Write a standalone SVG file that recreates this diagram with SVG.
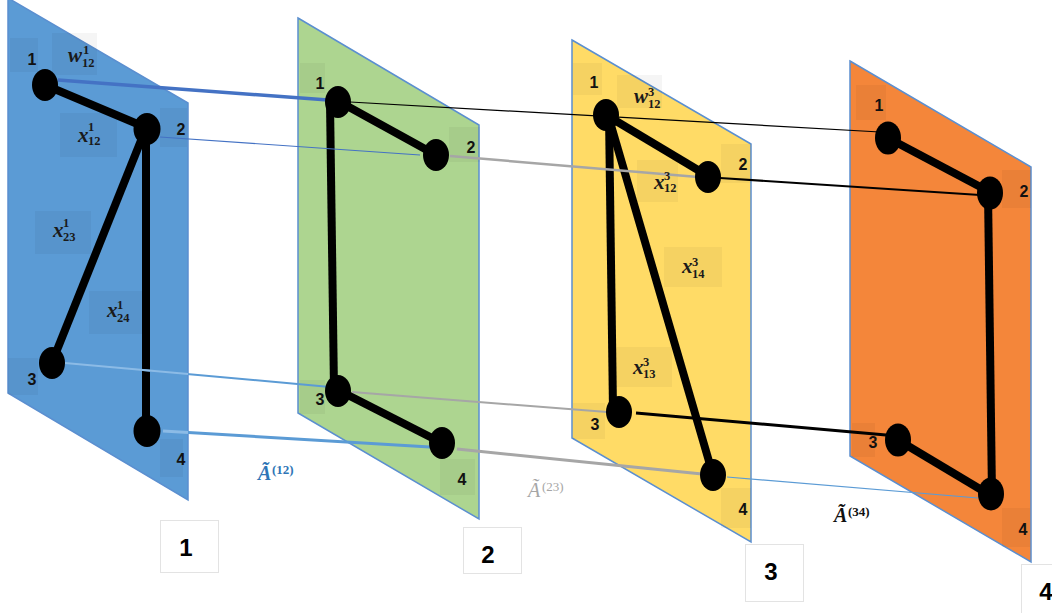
<svg xmlns="http://www.w3.org/2000/svg" width="1052" height="613" viewBox="0 0 1052 613">
<style>
.panel{stroke:#5B8FD0;stroke-width:1.5;stroke-linejoin:miter}
.box{fill:#000;fill-opacity:0.04}
.num{font-family:"Liberation Sans",Arial,sans-serif;font-weight:bold;font-size:16px;text-anchor:middle;fill:#111}
.big{font-family:"Liberation Sans",Arial,sans-serif;font-weight:bold;font-size:24px;text-anchor:middle;fill:#000}
.nbox{fill:#fff;stroke:#e3e3e3;stroke-width:1}
.m{font-family:"Liberation Serif","DejaVu Serif",serif;font-style:italic;font-weight:bold;font-size:21px;fill:#1a1a1a}
.s{font-family:"Liberation Serif","DejaVu Serif",serif;font-weight:bold;font-size:12.5px;fill:#1a1a1a}
.edge{stroke:#000;stroke-width:8;fill:none}
.node{fill:#000}
</style>

<g id="panel-1">
<polygon class="panel" fill="#5B9BD5" points="8,-2 188,103 188,500 8,393"/>
<rect class="box" x="10" y="38" width="28" height="34"/>
<rect class="box" x="52" y="33" width="45" height="42"/>
<rect class="box" x="60" y="113" width="57" height="44"/>
<rect class="box" x="160" y="108" width="27" height="39"/>
<rect class="box" x="35" y="211" width="56" height="43"/>
<rect class="box" x="89" y="291" width="56" height="43"/>
<rect class="box" x="8" y="358" width="30" height="37"/>
<rect class="box" x="160" y="439" width="23" height="38"/>
</g>

<g id="panel-2">
<polygon class="panel" fill="#ADD590" points="298,18 479,125 479,519 298,413"/>
<rect class="box" x="300" y="63" width="25" height="30"/>
<rect class="box" x="449" y="127" width="31" height="35"/>
<rect class="box" x="300" y="380" width="25" height="34"/>
<rect class="box" x="440" y="459" width="35" height="36"/>
</g>

<g id="panel-3">
<polygon class="panel" fill="#FFDB66" points="572,40 751,144 751,542 572,438"/>
<rect class="box" x="573" y="63" width="29" height="32"/>
<rect class="box" x="617" y="75" width="45" height="33"/>
<rect class="box" x="721" y="144" width="30" height="39"/>
<rect class="box" x="637" y="160" width="41" height="42"/>
<rect class="box" x="664" y="247" width="58" height="40"/>
<rect class="box" x="614" y="347" width="58" height="40"/>
<rect class="box" x="573" y="403" width="32" height="36"/>
<rect class="box" x="721" y="488" width="30" height="40"/>
</g>

<g id="panel-4">
<polygon class="panel" fill="#F4863A" points="850,61 1031,167 1031,562 850,456"/>
<rect class="box" x="856" y="85" width="30" height="35"/>
<rect class="box" x="1002" y="170" width="29" height="38"/>
<rect class="box" x="852" y="423" width="23" height="34"/>
<rect class="box" x="1002" y="508" width="28" height="39"/>
</g>

<g id="connectors">
<line class="edge" x1="45" y1="85" x2="147" y2="128"/>
<line class="edge" x1="146" y1="128" x2="53" y2="360"/>
<line class="edge" x1="146" y1="128" x2="146" y2="430"/>
<line class="edge" x1="338" y1="101" x2="436" y2="155"/>
<line class="edge" x1="330" y1="102" x2="334" y2="390"/>
<line class="edge" x1="338" y1="390" x2="442" y2="443"/>
<line class="edge" x1="606" y1="115" x2="708" y2="176"/>
<line class="edge" x1="609" y1="115" x2="613" y2="410"/>
<line class="edge" x1="608" y1="115" x2="713" y2="475"/>
<line class="edge" x1="888" y1="138" x2="990" y2="192"/>
<line class="edge" x1="988" y1="192" x2="992" y2="495"/>
<line class="edge" x1="898" y1="440" x2="990" y2="495"/>
<line x1="58" y1="80" x2="328" y2="100" stroke="#4472C4" stroke-width="3.5"/>
<line x1="160" y1="137" x2="420" y2="155" stroke="#4472C4" stroke-width="1.2"/>
<line x1="65" y1="363" x2="330" y2="387" stroke="#5B9BD5" stroke-width="2"/>
<line x1="65" y1="363" x2="188" y2="374" stroke="#8CBBE6" stroke-width="2"/>
<line x1="163" y1="431" x2="430" y2="447" stroke="#5B9BD5" stroke-width="3"/>
<line x1="163" y1="431" x2="188" y2="432.5" stroke="#8CBBE6" stroke-width="3"/>
<line x1="350" y1="102" x2="880" y2="132" stroke="#000" stroke-width="1.2"/>
<line x1="450" y1="156" x2="698" y2="177" stroke="#A6A6A6" stroke-width="2.5"/>
<line x1="720" y1="178" x2="980" y2="195" stroke="#000" stroke-width="2"/>
<line x1="352" y1="392" x2="607" y2="412" stroke="#A6A6A6" stroke-width="2"/>
<line x1="636" y1="413" x2="886" y2="435" stroke="#000" stroke-width="3"/>
<line x1="457" y1="449" x2="702" y2="474" stroke="#A6A6A6" stroke-width="3"/>
<line x1="727" y1="477" x2="978" y2="498" stroke="#5B9BD5" stroke-width="1.2"/>
</g>

<g id="node-1-1"><ellipse class="node" cx="45" cy="85" rx="13" ry="16"/><text class="num" x="32" y="65">1</text></g>
<g id="node-1-2"><ellipse class="node" cx="147" cy="129" rx="13.5" ry="16"/><text class="num" x="181" y="135">2</text></g>
<g id="node-1-3"><ellipse class="node" cx="52" cy="363" rx="13" ry="16"/><text class="num" x="32" y="385">3</text></g>
<g id="node-1-4"><ellipse class="node" cx="147" cy="431" rx="13.5" ry="16"/><text class="num" x="181" y="465">4</text></g>

<g id="node-2-1"><ellipse class="node" cx="338" cy="102" rx="13" ry="16"/><text class="num" x="320" y="89">1</text></g>
<g id="node-2-2"><ellipse class="node" cx="436" cy="155" rx="13" ry="16"/><text class="num" x="471" y="153">2</text></g>
<g id="node-2-3"><ellipse class="node" cx="338" cy="391" rx="13" ry="16"/><text class="num" x="320" y="405">3</text></g>
<g id="node-2-4"><ellipse class="node" cx="442" cy="443" rx="13" ry="16"/><text class="num" x="462" y="485">4</text></g>

<g id="node-3-1"><ellipse class="node" cx="606" cy="115" rx="13" ry="16"/><text class="num" x="594" y="88">1</text></g>
<g id="node-3-2"><ellipse class="node" cx="708" cy="177" rx="13" ry="16"/><text class="num" x="743" y="170">2</text></g>
<g id="node-3-3"><ellipse class="node" cx="619" cy="412" rx="13" ry="16"/><text class="num" x="595" y="430">3</text></g>
<g id="node-3-4"><ellipse class="node" cx="713" cy="475" rx="13" ry="16"/><text class="num" x="743" y="515">4</text></g>

<g id="node-4-1"><ellipse class="node" cx="888" cy="138" rx="13" ry="16.5"/><text class="num" x="879" y="111">1</text></g>
<g id="node-4-2"><ellipse class="node" cx="990" cy="193" rx="13" ry="16.5"/><text class="num" x="1024" y="197">2</text></g>
<g id="node-4-3"><ellipse class="node" cx="898" cy="440" rx="13" ry="16.5"/><text class="num" x="873" y="448">3</text></g>
<g id="node-4-4"><ellipse class="node" cx="991" cy="494" rx="13" ry="16.5"/><text class="num" x="1023" y="535">4</text></g>

<g id="weights">
<text class="m" x="68" y="62">w</text><text class="s" x="83" y="54">1</text><text class="s" x="82" y="67">12</text>
<text class="m" x="78" y="142">x</text><text class="s" x="88" y="131">1</text><text class="s" x="88" y="145">12</text>
<text class="m" x="53" y="237">x</text><text class="s" x="63" y="227">1</text><text class="s" x="63" y="241">23</text>
<text class="m" x="107" y="317">x</text><text class="s" x="117" y="309">1</text><text class="s" x="117" y="322">24</text>
<text class="m" x="634" y="103">w</text><text class="s" x="648" y="96">3</text><text class="s" x="648" y="108">12</text>
<text class="m" x="654" y="189">x</text><text class="s" x="664" y="180">3</text><text class="s" x="664" y="192">12</text>
<text class="m" x="682" y="273">x</text><text class="s" x="692" y="266">3</text><text class="s" x="692" y="278">14</text>
<text class="m" x="633" y="374">x</text><text class="s" x="643" y="366">3</text><text class="s" x="643" y="378">13</text>
</g>

<g id="adjacency-labels">
<text x="258" y="480" font-family="Liberation Serif,serif" font-style="italic" font-weight="bold" font-size="20" fill="#2E75B6">Ã</text>
<text x="272" y="474" font-family="Liberation Serif,serif" font-weight="bold" font-size="13" fill="#2E75B6">(12)</text>
<text x="528" y="497" font-family="Liberation Serif,serif" font-style="italic" font-size="20" fill="#A6A6A6">Ã</text>
<text x="542" y="491" font-family="Liberation Serif,serif" font-size="13" fill="#A6A6A6">(23)</text>
<text x="834" y="522" font-family="Liberation Serif,serif" font-style="italic" font-weight="bold" font-size="20" fill="#111">Ã</text>
<text x="848" y="516" font-family="Liberation Serif,serif" font-weight="bold" font-size="13" fill="#111">(34)</text>
</g>

<g id="layer-numbers">
<rect class="nbox" x="160.5" y="520.5" width="58" height="52"/><text class="big" x="186" y="556">1</text>
<rect class="nbox" x="463.5" y="527.5" width="58" height="46"/><text class="big" x="488" y="563">2</text>
<rect class="nbox" x="745.5" y="544.5" width="58" height="57"/><text class="big" x="771" y="580">3</text>
<rect class="nbox" x="1021.5" y="564.5" width="40" height="60"/><text class="big" x="1046" y="600">4</text>
</g>
</svg>
